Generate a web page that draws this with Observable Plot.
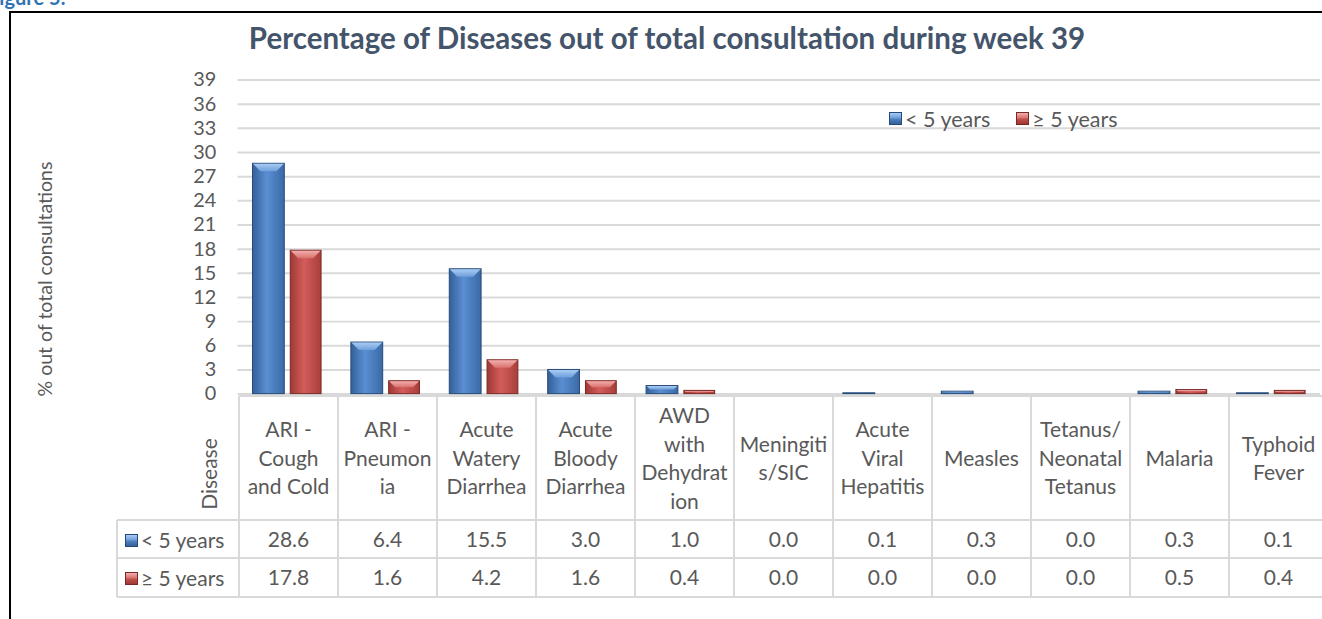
<!DOCTYPE html>
<html>
<head>
<meta charset="utf-8">
<script src="https://cdn.jsdelivr.net/npm/d3@7"></script>
<script src="https://cdn.jsdelivr.net/npm/@observablehq/plot@0.6"></script>
<style>
  html, body { margin: 0; padding: 0; width: 1322px; height: 619px; overflow: hidden; background: #fff; font-family: Lato, "Open Sans", sans-serif; }
  #root { position: relative; width: 1322px; height: 619px; overflow: hidden; }
  .abs { position: absolute; }
  .cell { position: absolute; display: flex; align-items: center; justify-content: center; text-align: center; color: #595959; font-size: 21px; line-height: 28.5px; }
  .hl { position: absolute; height: 2px; background: #D9D9D9; }
  .vl { position: absolute; width: 2px; background: #D9D9D9; }
  .sw { display: inline-block; width: 13px; height: 13px; border: 1px solid; box-sizing: border-box; vertical-align: middle; margin-right: 3px; }
</style>
</head>
<body>
<div id="root"></div>
<script>
// ---------- data ----------
const categories = ["ARI - Cough and Cold", "ARI - Pneumonia", "Acute Watery Diarrhea", "Acute Bloody Diarrhea", "AWD with Dehydration", "Meningitis/SIC", "Acute Viral Hepatitis", "Measles", "Tetanus/Neonatal Tetanus", "Malaria", "Typhoid Fever"];
const categoryLines = [["ARI -", "Cough", "and Cold"], ["ARI -", "Pneumon", "ia"], ["Acute", "Watery", "Diarrhea"], ["Acute", "Bloody", "Diarrhea"], ["AWD", "with", "Dehydrat", "ion"], ["Meningiti", "s/SIC"], ["Acute", "Viral", "Hepatitis"], ["Measles"], ["Tetanus/", "Neonatal", "Tetanus"], ["Malaria"], ["Typhoid", "Fever"]];
const under5 = [28.6, 6.4, 15.5, 3.0, 1.0, 0.0, 0.1, 0.3, 0.0, 0.3, 0.1];
const over5 = [17.8, 1.6, 4.2, 1.6, 0.4, 0.0, 0.0, 0.0, 0.0, 0.5, 0.4];
const seriesNames = ["< 5 years", "≥ 5 years"];
const yTicks = [0, 3, 6, 9, 12, 15, 18, 21, 24, 27, 30, 33, 36, 39];
const titleText = "Percentage of Diseases out of total consultation during week 39";
const yLabel = "% out of total consultations";
const tableHeader = "Disease";
const figureCaption = "Figure 5:";

const seriesStyle = [
  {face: ["#34609A", "#5A8FD2", "#3A69A6"], edge: "#264A78", bevel: ["#A9CBF2", "#6F9FDC"], sw: "#4F81BD"},
  {face: ["#9E3835", "#D35D5A", "#A83E3B"], edge: "#7A2826", bevel: ["#F2AFAD", "#DA716E"], sw: "#C0504D"}
];

const rows = categories.map((c, i) => ({category: c, under5: under5[i], over5: over5[i]}));

const root = document.getElementById("root");

// outer frame and clipped figure caption
const frame = document.createElement("div");
frame.className = "abs";
Object.assign(frame.style, {left: "9px", top: "11px", width: "1340px", height: "640px", border: "2px solid #000", boxSizing: "border-box"});
root.appendChild(frame);
const fig = document.createElement("div");
fig.className = "abs";
Object.assign(fig.style, {left: "-12px", top: "-15px", color: "#2E74B5", fontWeight: "bold", fontSize: "20px"});
fig.textContent = figureCaption;
root.appendChild(fig);

// ---------- plot ----------
const plot = Plot.plot({
  width: 1330,
  height: 619,
  marginTop: 80,
  marginBottom: 223,
  marginLeft: 239,
  marginRight: 2,
  style: {fontFamily: "Lato, 'Open Sans', sans-serif", fontSize: "20px", color: "#595959", background: "transparent", overflow: "visible"},
  x: {domain: categories, padding: 0, axis: null},
  y: {domain: [0, 39], axis: null},
  marks: [
    Plot.gridY(yTicks, {stroke: "#D9D9D9", strokeOpacity: 1, strokeWidth: 2}),
    Plot.axisY(yTicks, {tickSize: 0, tickPadding: 22, label: null, fill: "#595959", fontSize: 20}),
    Plot.barY(rows, {x: "category", y: "under5", insetLeft: 15, insetRight: 52, fill: "url(#gBlue)", stroke: seriesStyle[0].edge, strokeWidth: 1}),
    Plot.barY(rows, {x: "category", y: "over5", insetLeft: 53, insetRight: 15, fill: "url(#gRed)", stroke: seriesStyle[1].edge, strokeWidth: 1})
  ]
});
plot.style.position = "absolute";
plot.style.left = "0px";
plot.style.top = "0px";
root.appendChild(plot);

// gradients
const svg = d3.select(plot);
const defs = svg.insert("defs", ":first-child");
[["gBlue", 0], ["gRed", 1]].forEach(([id, k]) => {
  const g = defs.append("linearGradient").attr("id", id).attr("x1", 0).attr("x2", 1).attr("y1", 0).attr("y2", 0);
  const f = seriesStyle[k].face;
  g.append("stop").attr("offset", "0%").attr("stop-color", f[0]);
  g.append("stop").attr("offset", "45%").attr("stop-color", f[1]);
  g.append("stop").attr("offset", "100%").attr("stop-color", f[2]);
  const b = defs.append("linearGradient").attr("id", id + "B").attr("x1", 0).attr("x2", 0).attr("y1", 0).attr("y2", 1);
  b.append("stop").attr("offset", "0%").attr("stop-color", seriesStyle[k].bevel[0]);
  b.append("stop").attr("offset", "100%").attr("stop-color", seriesStyle[k].bevel[1]);
});
// bevel tops on rendered bars
svg.selectAll('g[aria-label="bar"]').each(function(_, k) {
  const g = d3.select(this);
  const id = k === 0 ? "gBlueB" : "gRedB";
  g.selectAll("rect").each(function() {
    const x = +this.getAttribute("x"), y = +this.getAttribute("y");
    const w = +this.getAttribute("width"), h = +this.getAttribute("height");
    if (!(h > 0.5)) return;
    const b = Math.min(8, h / 2);
    g.append("polygon")
      .attr("points", `${x + 0.5},${y + 0.5} ${x + w - 0.5},${y + 0.5} ${x + w - b},${y + b} ${x + b},${y + b}`)
      .attr("fill", `url(#${id})`)
      .attr("stroke", "none");
  });
});

// ---------- title, y label, legend ----------
const title = document.createElement("div");
title.className = "abs";
Object.assign(title.style, {left: "0px", width: "1334px", top: "20px", textAlign: "center", fontWeight: "bold", fontSize: "29.5px", color: "#44546A", whiteSpace: "nowrap"});
title.textContent = titleText;
root.appendChild(title);

const yl = document.createElement("div");
yl.className = "abs";
Object.assign(yl.style, {left: "44px", top: "279px", transform: "translate(-50%,-50%) rotate(-90deg)", fontSize: "19.5px", color: "#595959", whiteSpace: "nowrap"});
yl.textContent = yLabel;
root.appendChild(yl);

function swatch(k) {
  const s = document.createElement("span");
  s.className = "sw";
  const st = seriesStyle[k];
  s.style.background = `linear-gradient(180deg, ${st.bevel[0]} 0%, ${st.bevel[1]} 45%, ${st.sw} 55%, ${st.face[0]} 100%)`;
  s.style.borderColor = st.edge;
  return s;
}

const legend = document.createElement("div");
legend.className = "abs";
Object.assign(legend.style, {left: "889px", top: "103px", fontSize: "21.5px", color: "#595959", whiteSpace: "nowrap"});
seriesNames.forEach((n, k) => {
  const item = document.createElement("span");
  item.style.marginRight = k === 0 ? "26px" : "0";
  item.appendChild(swatch(k));
  const t = document.createElement("span");
  t.textContent = n;
  t.style.verticalAlign = "middle";
  item.appendChild(t);
  legend.appendChild(item);
});
root.appendChild(legend);

// ---------- data table (columns from the plot's x scale) ----------
const xs = plot.scale("x");
const bw = xs.bandwidth;
const x0 = xs.apply(categories[0]);
const xEnd = xs.apply(categories[categories.length - 1]) + bw;
const tTop = 396, hRow = 124, r1 = 38, r2 = 39;
const labelLeft = 117;

function hline(y, xa, xb) { const d = document.createElement("div"); d.className = "hl"; Object.assign(d.style, {left: xa + "px", top: (y - 1) + "px", width: (xb - xa) + "px"}); root.appendChild(d); }
function vline(x, ya, yb) { const d = document.createElement("div"); d.className = "vl"; Object.assign(d.style, {left: (x - 1) + "px", top: ya + "px", height: (yb - ya) + "px"}); root.appendChild(d); }
function cell(x, y, w, h, html) { const d = document.createElement("div"); d.className = "cell"; Object.assign(d.style, {left: x + "px", top: y + "px", width: w + "px", height: h + "px"}); if (typeof html === "string") d.innerHTML = html; else d.appendChild(html); root.appendChild(d); return d; }

hline(tTop, x0, xEnd + 2);
hline(tTop + hRow, labelLeft, xEnd + 2);
hline(tTop + hRow + r1, labelLeft, xEnd + 2);
hline(tTop + hRow + r1 + r2, labelLeft, xEnd + 2);
vline(labelLeft, tTop + hRow, tTop + hRow + r1 + r2);
categories.forEach(c => vline(xs.apply(c), tTop, tTop + hRow + r1 + r2));
vline(xEnd, tTop, tTop + hRow + r1 + r2);

categories.forEach((c, i) => {
  const x = xs.apply(c);
  cell(x, tTop, bw, hRow, categoryLines[i].join("<br>"));
  cell(x, tTop + hRow, bw, r1, under5[i].toFixed(1));
  cell(x, tTop + hRow + r1, bw, r2, over5[i].toFixed(1));
});

// vertical "Disease" header
const dz = document.createElement("div");
dz.className = "abs";
Object.assign(dz.style, {left: "208px", top: "474px", transform: "translate(-50%,-50%) rotate(-90deg)", fontSize: "21px", color: "#595959", whiteSpace: "nowrap"});
dz.textContent = tableHeader;
root.appendChild(dz);

[0, 1].forEach(k => {
  const wrap = document.createElement("div");
  wrap.style.whiteSpace = "nowrap";
  wrap.appendChild(swatch(k));
  const t = document.createElement("span");
  t.textContent = seriesNames[k];
  t.style.verticalAlign = "middle";
  wrap.appendChild(t);
  const c = cell(labelLeft + 8, tTop + hRow + (k ? r1 : 0), x0 - labelLeft - 8, k ? r2 : r1, wrap);
  c.style.justifyContent = "flex-start";
});
</script>
</body>
</html>
